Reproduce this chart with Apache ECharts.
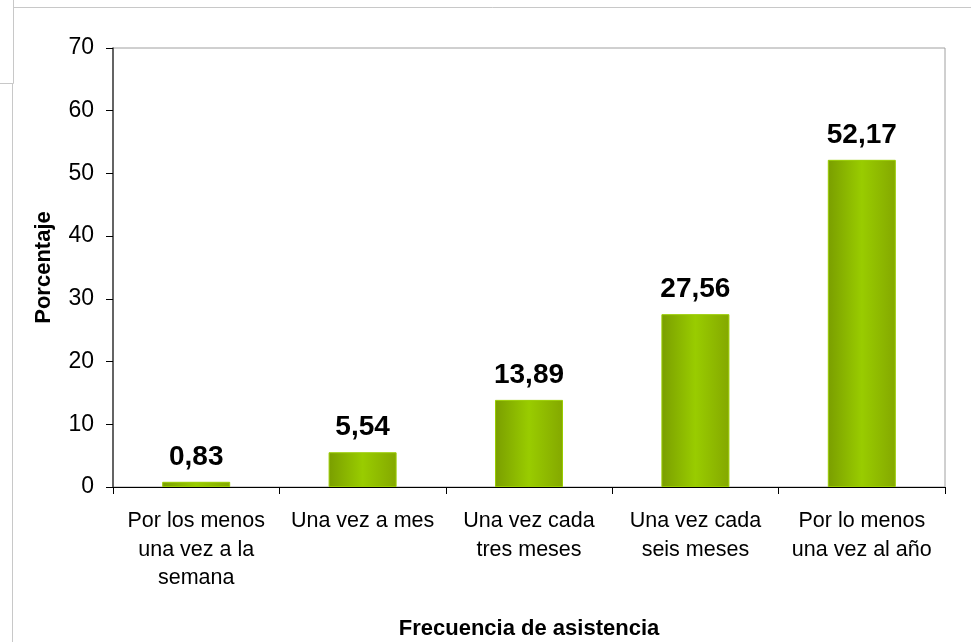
<!DOCTYPE html>
<html>
<head>
<meta charset="utf-8">
<title>Frecuencia de asistencia</title>
<script src="https://cdn.jsdelivr.net/npm/echarts@6/dist/echarts.min.js"></script>
<style>
	html, body { margin: 0; padding: 0; background: #fff; }
	#main { width: 971px; height: 642px; }
</style>
</head>
<body>
<div id="main"></div>
<script>
// datos del grafico
var categorias = [
	'Por los menos\nuna vez a la\nsemana',
	'Una vez a mes',
	'Una vez cada\ntres meses',
	'Una vez cada\nseis meses',
	'Por lo menos\nuna vez al año'
];
var porcentajes = [0.83, 5.54, 13.89, 27.56, 52.17];
var ejeY = { min: 0, max: 70, interval: 10 };

var fuente = 'Arial, "Liberation Sans", sans-serif';

function init() {
	var myChart = echarts.init(document.getElementById('main'), null, { renderer: 'canvas' });

	var option = {
		backgroundColor: '#fff',
		animation: false,
		textStyle: { fontFamily: fuente },
		// lineas grises del recorte de pantalla
		graphic: [
			{ type: 'line', shape: { x1: 13.5, y1: 0, x2: 13.5, y2: 83.5 }, style: { stroke: '#c8c8c8', lineWidth: 1 } },
			{ type: 'line', shape: { x1: 13.5, y1: 7.5, x2: 971, y2: 7.5 }, style: { stroke: '#c8c8c8', lineWidth: 1 } },
			{ type: 'line', shape: { x1: 0, y1: 83.5, x2: 13.5, y2: 83.5 }, style: { stroke: '#c8c8c8', lineWidth: 1 } },
			{ type: 'line', shape: { x1: 12.5, y1: 84, x2: 12.5, y2: 642 }, style: { stroke: '#c8c8c8', lineWidth: 1 } }
		],
		grid: {
			left: 113,
			right: 26,
			top: 48,
			bottom: 155,
			show: true,
			borderColor: '#a0a0a0',
			borderWidth: 1,
			containLabel: false,
			outerBoundsMode: 'none'
		},
		xAxis: {
			type: 'category',
			data: categorias,
			name: 'Frecuencia de asistencia',
			nameLocation: 'middle',
			nameGap: 131,
			nameTextStyle: { fontSize: 22, fontWeight: 'bold', color: '#000', fontFamily: fuente },
			axisLine: { lineStyle: { color: '#000', width: 1 } },
			axisTick: { show: true, length: 7, lineStyle: { color: '#000' } },
			axisLabel: {
				fontSize: 21.5,
				lineHeight: 28.5,
				color: '#000',
				margin: 20,
				interval: 0,
				fontFamily: fuente
			},
			splitLine: { show: false }
		},
		yAxis: {
			type: 'value',
			min: ejeY.min,
			max: ejeY.max,
			interval: ejeY.interval,
			name: 'Porcentaje',
			nameLocation: 'middle',
			nameGap: 58,
			nameTextStyle: { fontSize: 22, fontWeight: 'bold', color: '#000', fontFamily: fuente },
			axisLine: { show: true, lineStyle: { color: '#404040', width: 1.5 } },
			axisTick: { show: true, length: 7, lineStyle: { color: '#000' } },
			axisLabel: { fontSize: 23, color: '#000', margin: 19, fontFamily: fuente },
			splitLine: { show: false }
		},
		series: [{
			type: 'bar',
			data: porcentajes,
			barWidth: 68,
			itemStyle: {
				color: new echarts.graphic.LinearGradient(0, 0, 1, 0, [
					{ offset: 0, color: '#7a9e00' },
					{ offset: 0.5, color: '#99cc00' },
					{ offset: 1, color: '#84a800' }
				]),
				borderColor: '#99cc00',
				borderWidth: 1
			},
			label: {
				show: true,
				position: 'top',
				distance: 11,
				fontSize: 28,
				fontWeight: 'bold',
				color: '#000',
				fontFamily: fuente,
				formatter: function(p) {
					return p.value.toFixed(2).replace('.', ',');
				}
			}
		}]
	};

	myChart.setOption(option);
}

init();
</script>
</body>
</html>
